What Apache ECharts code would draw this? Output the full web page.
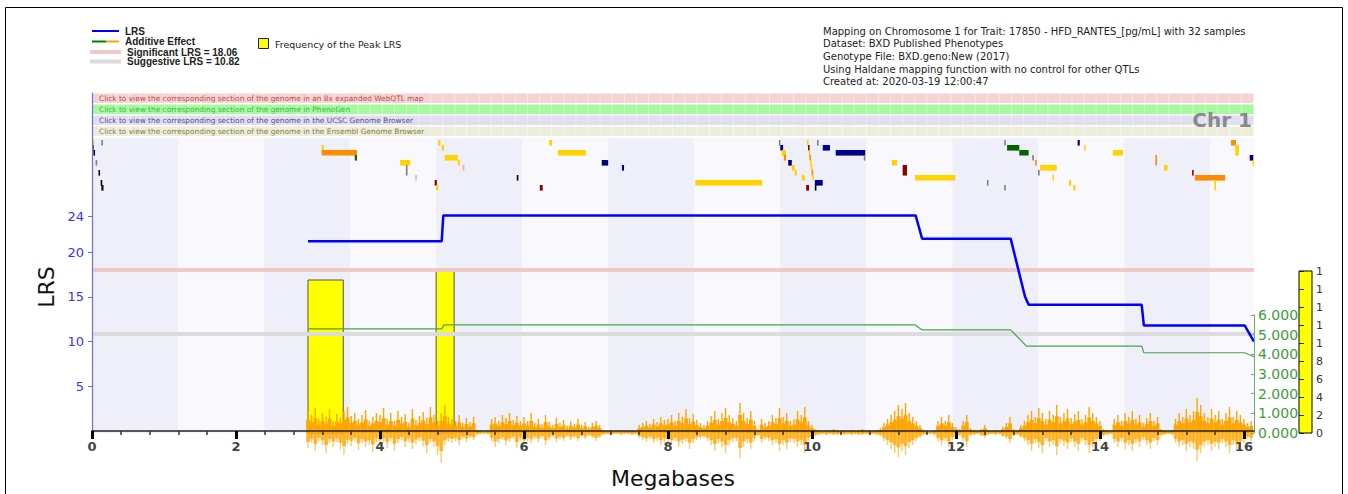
<!DOCTYPE html>
<html>
<head>
<meta charset="utf-8">
<title>Mapping on Chromosome 1</title>
<script src="https://cdn.jsdelivr.net/npm/echarts@6.0.0/dist/echarts.min.js"></script>
<style>
html,body{margin:0;padding:0;background:#fff;}
#chart{width:1348px;height:494px;}
</style>
</head>
<body>
<div id="chart"></div>
<script>
// ================= DATA =================
const X_MAX = 16.14;
const X_MAJOR_TICKS = [0, 2, 4, 6, 8, 10, 12, 14, 16];
const X_MINOR_STEP = 0.4;
const LRS_TICKS = [5, 10, 15, 20, 24];
const ADD_TICKS = [0, 1, 2, 3, 4, 5, 6];
const FREQ_TICKS = [0, 2, 4, 6, 8, 10, 12, 14, 16, 18];
const FREQ_TICK_LABELS = ['0', '2', '4', '6', '8', '1', '1', '1', '1', '1'];
const SIG_LRS = 18.06;
const SUG_LRS = 10.82;

// LRS curve (Mb, LRS)
const LRS_POS = [3.00, 4.857, 4.88, 11.44, 11.53, 12.76, 12.96, 13.01, 14.58, 14.61, 16.01, 16.14];
const LRS_VAL = [21.2, 21.2, 24.1, 24.1, 21.5, 21.5, 15.0, 14.1, 14.1, 11.8, 11.8, 10.0];

// Additive effect (Mb, value)
const ADD_POS = [3.00, 4.857, 4.89, 11.43, 11.53, 12.76, 12.98, 14.58, 14.61, 16.01, 16.14];
const ADD_VAL = [5.29, 5.29, 5.50, 5.50, 5.24, 5.24, 4.42, 4.42, 4.08, 4.08, 3.88];

// Frequency of the peak LRS
const FREQ_START = [3.00, 4.78];
const FREQ_END = [3.49, 5.03];
const FREQ_VAL = [17, 18];

// SNP density, sampled from 3.00 Mb every 0.05 Mb (above / below axis)
const DENS_START = 3.0;
const DENS_STEP = 0.05;
const DENS_UP = [
  22,18,25,14,20,16,24,12,19,15,22,26,17,20,14,18,23,12,16,20,
  18,25,14,20,12,22,16,19,10,24,13,17,21,15,26,18,12,20,28,16,
  14,12,18,10,15,11,16,3,2,1,2,14,16,12,18,15,20,13,17,12,
  16,12,20,10,14,9,18,11,8,15,10,13,7,12,9,14,8,11,6,10,
  12,8,3,2,3,2,2,3,2,2,3,2,8,10,12,9,14,11,16,13,
  14,18,12,20,16,24,15,19,13,10,8,12,17,22,14,20,25,18,15,12,
  30,20,15,22,12,4,14,10,12,18,15,25,16,20,12,14,22,18,26,12,
  8,4,3,2,3,2,4,3,2,3,2,3,2,3,4,2,3,2,3,5,
  10,14,18,22,28,24,30,20,16,12,8,3,2,2,3,12,16,12,18,10,
  6,4,12,18,5,3,2,4,8,3,2,3,2,6,10,16,4,3,8,12,
  18,22,16,25,20,14,22,18,28,16,20,24,15,19,22,14,18,26,20,16,
  12,4,3,2,14,18,12,20,16,22,14,18,10,15,20,12,16,4,3,2,
  3,14,20,16,24,18,22,35,28,20,16,24,18,22,14,20,26,16,22,18,14,10,12
];
const DENS_DOWN = [
  15,10,18,8,12,20,10,14,9,16,22,11,13,8,17,10,14,12,19,9,
  12,9,15,8,18,10,7,14,9,16,11,8,13,20,10,14,22,30,12,9,
  10,8,12,6,9,5,7,2,1,1,1,8,14,10,7,12,9,6,15,8,
  12,8,10,6,9,5,12,7,4,9,6,8,4,7,5,8,4,6,3,5,
  8,5,2,1,2,1,1,2,1,1,2,1,5,7,9,6,10,8,12,9,
  10,12,8,14,11,9,16,10,7,6,5,8,12,18,10,14,20,12,9,8,
  25,14,10,16,8,3,10,7,8,12,10,18,12,16,9,10,14,12,20,8,
  5,3,2,1,2,1,2,2,1,2,1,2,1,2,2,1,2,1,2,3,
  8,12,16,20,24,18,22,15,12,8,5,2,1,1,2,8,12,8,14,7,
  4,3,8,14,3,2,1,3,5,2,1,2,1,4,6,10,3,2,5,8,
  12,18,10,15,20,8,14,12,22,10,13,16,9,14,18,8,12,20,14,10,
  8,3,2,1,10,14,8,16,12,18,10,14,7,12,16,8,12,3,2,1,
  2,10,14,12,18,14,16,28,20,14,12,18,14,16,10,14,20,12,16,14,10,6,8
];

// Alternating background bands (Mb edges)
const BAND_EDGES = [0, 1.195, 2.39, 3.585, 4.78, 5.975, 7.17, 8.365, 9.56, 10.755, 11.95, 13.145, 14.34, 15.535, 16.14];

// Genes: [start Mb, end Mb, row, colour key]
const GENE_COLORS = {Y:'#ffd200', O:'#ff8c00', N:'#00008b', R:'#8b0000', G:'#006400', K:'#000000', A:'#808080', P:'#ffb070'};
const GENES = [
  [0.00,0.03,0,'Y'],[0.00,0.02,1,'K'],[0.02,0.04,2,'K'],[0.05,0.07,4,'A'],[0.09,0.11,6,'K'],
  [0.12,0.14,8,'K'],[0.13,0.16,9,'K'],[0.13,0.15,0,'A'],
  [3.19,3.22,1,'Y'],[3.19,3.68,2,'O'],[3.65,3.68,3,'G'],[4.28,4.42,4,'Y'],[4.36,4.38,5,'A'],
  [4.36,4.38,6,'A'],[4.49,4.51,7,'P'],[4.81,4.84,0,'Y'],[4.86,4.89,1,'Y'],[4.90,5.08,3,'Y'],
  [5.08,5.11,4,'Y'],[5.15,5.17,5,'P'],[4.76,4.79,8,'R'],[4.78,4.81,9,'Y'],[5.90,5.92,7,'K'],
  [6.22,6.26,9,'R'],[6.35,6.39,0,'Y'],[6.47,6.86,2,'Y'],[7.08,7.17,4,'N'],[7.36,7.39,5,'N'],
  [8.38,9.31,8,'Y'],
  [9.54,9.56,0,'A'],[9.56,9.60,1,'N'],[9.58,9.64,2,'Y'],[9.61,9.64,3,'O'],[9.67,9.72,4,'N'],
  [9.72,9.76,5,'Y'],[9.76,9.79,6,'Y'],[9.86,9.90,7,'Y'],[9.92,9.96,9,'R'],
  [9.93,9.945,0,'Y'],[9.945,9.96,1,'R'],[9.955,9.97,2,'Y'],[9.965,9.98,3,'O'],[9.975,9.99,4,'Y'],
  [9.985,10.0,5,'Y'],[9.995,10.01,6,'O'],[10.005,10.02,7,'Y'],
  [10.07,10.09,0,'A'],[10.15,10.25,1,'N'],[10.33,10.74,2,'N'],[10.72,10.74,3,'A'],
  [10.04,10.15,8,'N'],[10.04,10.06,9,'K'],
  [11.11,11.18,4,'Y'],[11.26,11.32,5,'R'],[11.26,11.32,6,'R'],[11.43,11.99,7,'Y'],
  [12.43,12.45,8,'A'],[12.67,12.69,9,'A'],[12.67,12.69,0,'A'],[12.71,12.88,1,'G'],
  [12.88,13.01,2,'G'],[13.06,13.08,3,'A'],[13.10,13.12,4,'O'],[13.17,13.40,5,'Y'],
  [13.14,13.16,6,'A'],[13.34,13.36,7,'Y'],[13.57,13.60,8,'Y'],[13.63,13.66,9,'Y'],
  [13.69,13.72,0,'N'],[13.78,13.80,1,'Y'],[14.18,14.32,2,'Y'],[14.77,14.79,3,'O'],
  [14.77,14.79,4,'O'],[14.89,14.94,5,'Y'],[15.28,15.30,6,'R'],[15.32,15.74,7,'O'],
  [15.59,15.61,8,'Y'],[15.59,15.61,9,'Y'],[15.82,15.89,0,'O'],[15.88,15.93,1,'Y'],
  [15.88,15.93,2,'Y'],[16.08,16.13,3,'N'],[16.12,16.14,4,'Y']
];

const BANNER_TEXT = [
  'Click to view the corresponding section of the genome in an 8x expanded WebQTL map',
  'Click to view the corresponding section of the genome in PhenoGen',
  'Click to view the corresponding section of the genome in the UCSC Genome Browser',
  'Click to view the corresponding section of the genome in the Ensembl Genome Browser'
];
const BANNER_FILL = ['#f6d3d3', '#a6f99e', '#dfdff0', '#ededdc'];
const BANNER_INK = ['#c04848', '#34c034', '#505088', '#80803a'];

const INFO_LINES = [
  'Mapping on Chromosome 1 for Trait: 17850 - HFD_RANTES_[pg/mL] with 32 samples',
  'Dataset: BXD Published Phenotypes',
  'Genotype File: BXD.geno:New (2017)',
  'Using Haldane mapping function with no control for other QTLs',
  'Created at: 2020-03-19 12:00:47'
];

// ================= CHART =================
const FONT = '"DejaVu Sans", Verdana, sans-serif';
const LEG_FONT = 'bold 10px "Liberation Sans", Arial, sans-serif';
const minorTicks = [];
for (let v = X_MINOR_STEP; v < X_MAX; v += X_MINOR_STEP) {
  const r = Math.round(v * 10) / 10;
  if (Math.abs(r / 2 - Math.round(r / 2)) > 1e-6) minorTicks.push(r);
}

const L = 92, R = 94, B = 61;
const chart = echarts.init(document.getElementById('chart'), null, {renderer: 'svg', width: 1348, height: 494});

function hiddenX(g, max) { return {gridIndex: g, type: 'value', min: 0, max: max, show: false}; }

const option = {
  backgroundColor: '#ffffff',
  animation: false,
  grid: [
    {left: L, right: R, top: 93, bottom: B},                 // 0 LRS
    {left: L, right: R, top: 315, bottom: B},                // 1 additive
    {left: L, right: R, top: 271, bottom: B},                // 2 frequency bars
    {left: 1299, width: 13, top: 271, bottom: B, show: true, backgroundColor: '#ffff00', borderColor: '#000', borderWidth: 1}, // 3 colour bar
    {left: L, right: R, top: 138, bottom: B},                // 4 bands + genes
    {left: L, right: R, top: 393, bottom: 21},               // 5 density
    {left: L, right: R, top: 93, height: 44}                 // 6 banners
  ],
  xAxis: [
    {gridIndex: 0, type: 'value', min: 0, max: X_MAX, position: 'bottom', z: 10,
      axisLine: {onZero: false, lineStyle: {color: '#222', width: 1.5}},
      axisTick: {customValues: X_MAJOR_TICKS, length: 8, lineStyle: {color: '#000', width: 3}},
      axisLabel: {customValues: X_MAJOR_TICKS, margin: 9, color: '#444', fontSize: 13, fontWeight: 'bold', fontFamily: FONT},
      splitLine: {show: false},
      name: 'Megabases', nameLocation: 'middle', nameGap: 36,
      nameTextStyle: {fontSize: 22, color: '#111', fontFamily: FONT}},
    {gridIndex: 0, type: 'value', min: 0, max: X_MAX, position: 'bottom', z: 10,
      axisLine: {show: false, onZero: false},
      axisTick: {customValues: minorTicks, length: 4, lineStyle: {color: '#333', width: 1.5}},
      axisLabel: {show: false}, splitLine: {show: false}},
    hiddenX(1, X_MAX), hiddenX(2, X_MAX), hiddenX(3, 1), hiddenX(4, X_MAX), hiddenX(5, X_MAX), hiddenX(6, X_MAX)
  ],
  yAxis: [
    {gridIndex: 0, type: 'value', min: 0, max: 340 / 9, z: 10,
      axisLine: {show: true, onZero: false, lineStyle: {color: '#6b6bff', width: 1.2}},
      axisTick: {show: true, customValues: LRS_TICKS, length: 4, lineStyle: {color: '#6b6bff'}},
      axisLabel: {customValues: LRS_TICKS, margin: 8, color: '#3535f5', fontSize: 13, fontFamily: FONT},
      splitLine: {show: false}},
    {gridIndex: 1, type: 'value', min: 0, max: 6, interval: 1, position: 'right', z: 10,
      axisLine: {show: true, onZero: false, lineStyle: {color: '#5cb85c', width: 1}},
      axisTick: {show: true, inside: true, length: 3, lineStyle: {color: '#5cb85c'}},
      axisLabel: {margin: 4, color: '#3d9d3d', fontSize: 14, fontFamily: FONT, formatter: v => v.toFixed(3)},
      splitLine: {show: false}},
    {gridIndex: 2, type: 'value', min: 0, max: 18, show: false},
    {gridIndex: 3, type: 'value', min: 0, max: 18, interval: 2, position: 'right', z: 10,
      axisLine: {show: false},
      axisTick: {show: true, length: 5, lineStyle: {color: '#222'}},
      axisLabel: {margin: 4, color: '#333', fontSize: 11, fontFamily: FONT,
        formatter: v => FREQ_TICK_LABELS[FREQ_TICKS.indexOf(v)] || ''},
      splitLine: {show: false}},
    {gridIndex: 4, type: 'value', min: -0.4, max: 58.6, inverse: true, show: false},
    {gridIndex: 5, type: 'value', min: -40, max: 40, show: false},
    {gridIndex: 6, type: 'value', min: -0.5, max: 3.5, inverse: true, show: false}
  ],
  series: [
    // background bands
    {type: 'custom', xAxisIndex: 5, yAxisIndex: 4, z: 0, silent: true,
      data: BAND_EDGES.slice(0, -1).map((s, i) => [s, BAND_EDGES[i + 1], i]),
      encode: {x: [0, 1], y: 2},
      renderItem: (params, api) => {
        const cs = params.coordSys;
        const x1 = api.coord([api.value(0), 0])[0];
        const x2 = api.coord([api.value(1), 0])[0];
        return {type: 'rect', shape: {x: x1, y: cs.y, width: x2 - x1, height: cs.height},
          style: {fill: api.value(2) % 2 === 0 ? '#eeeff8' : '#f9f9fd'}};
      }},
    // genes
    {type: 'custom', xAxisIndex: 5, yAxisIndex: 4, z: 1, silent: true,
      data: GENES.map(g => [g[0], g[1], g[2]]),
      encode: {x: [0, 1], y: 2},
      renderItem: (params, api) => {
        const g = GENES[params.dataIndex];
        const p1 = api.coord([api.value(0), api.value(2)]);
        const p2 = api.coord([api.value(1), api.value(2) + 1]);
        return {type: 'rect', shape: {x: p1[0], y: p1[1], width: Math.max(p2[0] - p1[0], 1.6), height: p2[1] - p1[1] + 0.6},
          style: {fill: GENE_COLORS[g[3]]}};
      }},
    // banners
    {type: 'custom', xAxisIndex: 7, yAxisIndex: 6, z: 1, silent: true,
      data: BANNER_TEXT.map((t, i) => [0, i]),
      encode: {x: 0, y: 1},
      renderItem: (params, api) => {
        const cs = params.coordSys;
        const i = params.dataIndex;
        const c = api.coord([0, api.value(1)]);
        const h = api.size([0, 1])[1];
        const top = c[1] - h / 2;
        const children = [{type: 'rect', shape: {x: cs.x + 1, y: top + 0.5, width: cs.width - 1, height: h - 1.4},
          style: {fill: BANNER_FILL[i]}}];
        for (let x = cs.x + 12; x < cs.x + cs.width; x += 12.1) {
          children.push({type: 'line', shape: {x1: x, y1: top + 0.5, x2: x, y2: top + h - 1},
            style: {stroke: 'rgba(255,255,255,0.45)', lineWidth: 1}});
        }
        children.push({type: 'text', x: cs.x + 7, y: c[1] - 0.3,
          style: {text: BANNER_TEXT[i], fill: BANNER_INK[i], font: '7.4px ' + FONT, verticalAlign: 'middle', align: 'left'}});
        return {type: 'group', children: children};
      }},
    // frequency bars
    {type: 'custom', xAxisIndex: 3, yAxisIndex: 2, z: 2, silent: true,
      data: FREQ_START.map((s, i) => [s, FREQ_END[i], FREQ_VAL[i]]),
      encode: {x: [0, 1], y: 2},
      renderItem: (params, api) => {
        const p1 = api.coord([api.value(0), api.value(2)]);
        const p2 = api.coord([api.value(1), 0]);
        return {type: 'rect', shape: {x: p1[0], y: p1[1], width: p2[0] - p1[0], height: p2[1] - p1[1]},
          style: {fill: '#ffff00', stroke: '#555', lineWidth: 1}};
      }},
    // thresholds
    {type: 'line', xAxisIndex: 0, yAxisIndex: 0, z: 3, data: [], silent: true,
      markLine: {symbol: 'none', silent: true, label: {show: false}, animation: false,
        data: [
          {yAxis: SIG_LRS, lineStyle: {color: '#f0c8c8', width: 4, type: 'solid'}},
          {yAxis: SUG_LRS, lineStyle: {color: '#dcdcdc', width: 4, type: 'solid'}}
        ]}},
    // SNP density: solid core plus a thin spike for each sample
    {type: 'custom', xAxisIndex: 6, yAxisIndex: 5, z: 4, silent: true,
      data: DENS_UP.map((u, i) => [DENS_START + i * DENS_STEP, u, DENS_DOWN[i]]),
      encode: {x: 0, y: [1, 2]},
      renderItem: (params, api) => {
        const x = api.value(0);
        const up = api.value(1), dn = api.value(2);
        const p0 = api.coord([x, 0]);
        const pu = api.coord([x, up]);
        const pd = api.coord([x, -dn]);
        const cu = api.coord([x, up * 0.6]);
        const cd = api.coord([x, -dn * 0.6]);
        const w = api.size([DENS_STEP, 0])[0];
        return {type: 'group', children: [
          {type: 'rect', shape: {x: p0[0] - w * 0.5, y: cu[1], width: w + 0.2, height: p0[1] - cu[1]}, style: {fill: '#ffa500'}},
          {type: 'rect', shape: {x: p0[0] - 0.7, y: pu[1], width: 1.4, height: p0[1] - pu[1]}, style: {fill: '#ffa500'}},
          {type: 'rect', shape: {x: p0[0] - w * 0.5, y: p0[1], width: w + 0.2, height: cd[1] - p0[1]}, style: {fill: '#ffa500', opacity: 0.75}},
          {type: 'rect', shape: {x: p0[0] - 0.7, y: p0[1], width: 1.4, height: pd[1] - p0[1]}, style: {fill: '#ffa500', opacity: 0.6}}
        ]};
      }},
    // additive effect
    {type: 'line', xAxisIndex: 2, yAxisIndex: 1, z: 5, showSymbol: false, silent: true,
      data: ADD_POS.map((x, i) => [x, ADD_VAL[i]]),
      lineStyle: {color: '#49a449', width: 1.2}},
    // LRS
    {type: 'line', xAxisIndex: 0, yAxisIndex: 0, z: 6, showSymbol: false, silent: true,
      data: LRS_POS.map((x, i) => [x, LRS_VAL[i]]),
      lineStyle: {color: '#0000ff', width: 2.5}}
  ],
  graphic: {elements: [
    {type: 'rect', silent: true, z: 100, shape: {x: 5.5, y: 7.5, width: 1337, height: 500}, style: {fill: 'none', stroke: '#000', lineWidth: 1}},
    // legend
    {type: 'line', z: 100, shape: {x1: 92, y1: 31, x2: 119, y2: 31}, style: {stroke: '#0000ff', lineWidth: 2}},
    {type: 'text', z: 100, x: 125, y: 31, style: {text: 'LRS', font: LEG_FONT, fill: '#222', verticalAlign: 'middle'}},
    {type: 'line', z: 100, shape: {x1: 92, y1: 41.5, x2: 106, y2: 41.5}, style: {stroke: '#008000', lineWidth: 2}},
    {type: 'line', z: 100, shape: {x1: 106, y1: 41.5, x2: 119, y2: 41.5}, style: {stroke: '#ffa500', lineWidth: 2}},
    {type: 'text', z: 100, x: 125, y: 41.5, style: {text: 'Additive Effect', font: LEG_FONT, fill: '#222', verticalAlign: 'middle'}},
    {type: 'line', z: 100, shape: {x1: 90, y1: 52, x2: 121, y2: 52}, style: {stroke: '#f0c8c8', lineWidth: 4}},
    {type: 'text', z: 100, x: 127, y: 52, style: {text: 'Significant LRS = ' + SIG_LRS.toFixed(2), font: LEG_FONT, fill: '#222', verticalAlign: 'middle'}},
    {type: 'line', z: 100, shape: {x1: 90, y1: 61.5, x2: 121, y2: 61.5}, style: {stroke: '#dcdcdc', lineWidth: 4}},
    {type: 'text', z: 100, x: 127, y: 61.5, style: {text: 'Suggestive LRS = ' + SUG_LRS.toFixed(2), font: LEG_FONT, fill: '#222', verticalAlign: 'middle'}},
    {type: 'rect', z: 100, shape: {x: 258.5, y: 38.5, width: 10, height: 10}, style: {fill: '#ffff00', stroke: '#222', lineWidth: 1}},
    {type: 'text', z: 100, x: 275, y: 44, style: {text: 'Frequency of the Peak LRS', font: '9.5px ' + FONT, fill: '#222', verticalAlign: 'middle'}},
    // info block
    ...INFO_LINES.map((t, i) => ({type: 'text', z: 100, x: 823, y: 31 + i * 12.7,
      style: {text: t, font: '10px ' + FONT, fill: '#222', verticalAlign: 'middle'}})),
    // chromosome label
    {type: 'text', z: 100, x: 1252, y: 120, style: {text: 'Chr 1', font: 'bold 20px ' + FONT, fill: '#8a8a8a', align: 'right', verticalAlign: 'middle'}},
    // LRS axis name
    {type: 'text', z: 100, x: 46, y: 287, rotation: Math.PI / 2,
      style: {text: 'LRS', font: '22px ' + FONT, fill: '#111', align: 'center', verticalAlign: 'middle'}}
  ]}
};
chart.setOption(option);
</script>
</body>
</html>
